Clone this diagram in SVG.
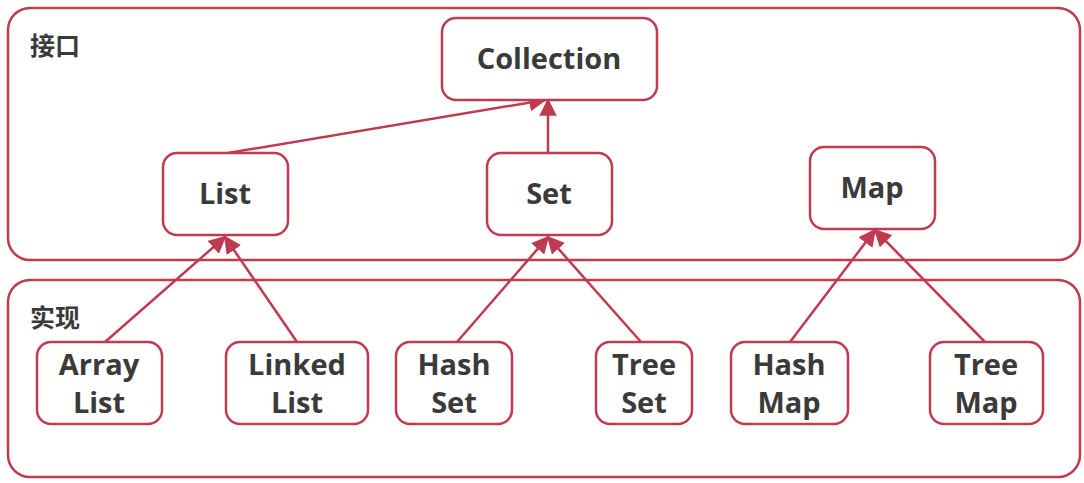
<svg xmlns="http://www.w3.org/2000/svg" width="1084" height="483" viewBox="0 0 1084 483">
<defs>
<marker id="ah" viewBox="0 0 10 10" refX="9" refY="5" markerWidth="7" markerHeight="7" orient="auto"><path d="M0,0 L10,5 L0,10 z" fill="#c03a50"/></marker>
<style>
.box{fill:#fff;stroke:#c03a50;stroke-width:2.5}
.t{font-family:"Open Sans","Noto Sans",sans-serif;font-weight:bold;font-size:29px;fill:#3a3a3a;text-anchor:middle}
.lbl{font-family:"Noto Sans CJK SC",sans-serif;font-weight:bold;font-size:25px;fill:#3a3a3a}
.c{stroke:#c03a50;stroke-width:2.5;fill:none;marker-end:url(#ah)}
</style>
</defs>
<rect width="1084" height="483" fill="#fff"/>
<g id="interfaces"><rect class="box" x="8" y="8" width="1072" height="252" rx="22"/><text class="lbl" x="30" y="55">接口</text></g>
<g id="impl"><rect class="box" x="8" y="280" width="1072" height="197" rx="22"/><text class="lbl" x="30" y="327">实现</text></g>
<g id="connectors">
<line class="c" x1="228" y1="153" x2="545" y2="100"/>
<line class="c" x1="548" y1="153" x2="548" y2="100"/>
<line class="c" x1="105" y1="342" x2="225" y2="237"/>
<line class="c" x1="297" y1="342" x2="225" y2="237"/>
<line class="c" x1="457" y1="342" x2="548" y2="237"/>
<line class="c" x1="641" y1="342" x2="548" y2="237"/>
<line class="c" x1="790" y1="342" x2="875" y2="230"/>
<line class="c" x1="985" y1="342" x2="875" y2="230"/>
</g>
<g id="collection"><rect class="box" x="442" y="18" width="215" height="82" rx="14"/><text class="t" x="549" y="69">Collection</text></g>
<g id="list"><rect class="box" x="163" y="153" width="125" height="82" rx="14"/><text class="t" x="225" y="204">List</text></g>
<g id="set"><rect class="box" x="487" y="153" width="125" height="82" rx="14"/><text class="t" x="549" y="204">Set</text></g>
<g id="map"><rect class="box" x="810" y="147" width="125" height="82" rx="14"/><text class="t" x="872" y="198">Map</text></g>
<g id="arraylist"><rect class="box" x="37" y="342" width="125" height="82" rx="14"/><text class="t" x="99" y="375">Array</text><text class="t" x="99" y="413">List</text></g>
<g id="linkedlist"><rect class="box" x="226" y="342" width="142" height="82" rx="14"/><text class="t" x="297" y="375">Linked</text><text class="t" x="297" y="413">List</text></g>
<g id="hashset"><rect class="box" x="396" y="342" width="116" height="82" rx="14"/><text class="t" x="454" y="375">Hash</text><text class="t" x="454" y="413">Set</text></g>
<g id="treeset"><rect class="box" x="596" y="342" width="96" height="82" rx="14"/><text class="t" x="644" y="375">Tree</text><text class="t" x="644" y="413">Set</text></g>
<g id="hashmap"><rect class="box" x="731" y="342" width="117" height="82" rx="14"/><text class="t" x="789" y="375">Hash</text><text class="t" x="789" y="413">Map</text></g>
<g id="treemap"><rect class="box" x="930" y="342" width="113" height="82" rx="14"/><text class="t" x="986" y="375">Tree</text><text class="t" x="986" y="413">Map</text></g>
</svg>
